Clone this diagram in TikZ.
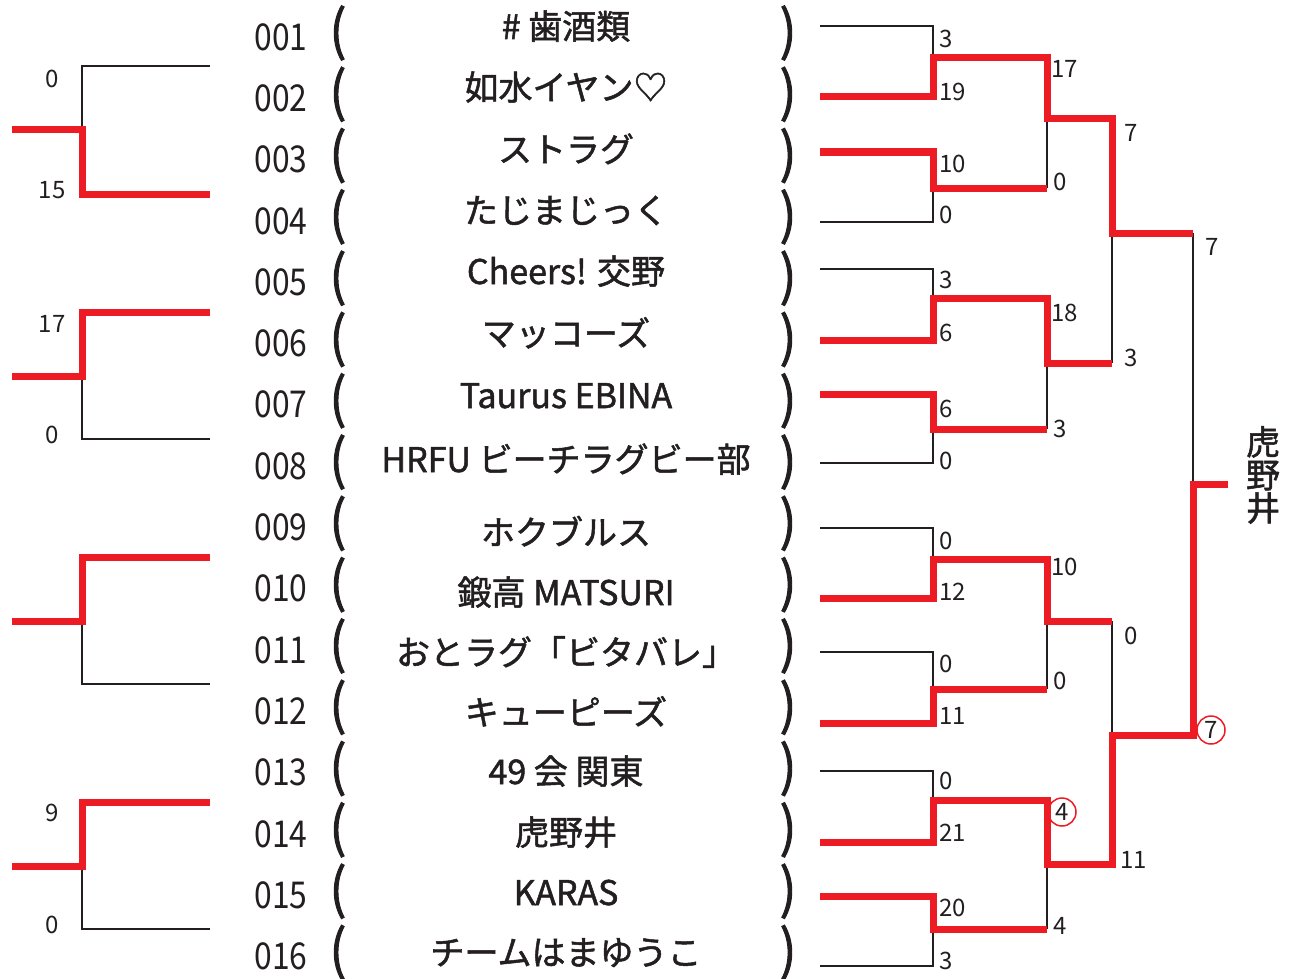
\documentclass[tikz,border=0pt]{standalone}
\usepackage{fontspec}
\setmainfont{Noto Sans CJK JP}
\newfontfamily\teamfont{Noto Sans CJK JP}[FakeBold=1.5]
\newfontfamily\parenfont{Noto Sans CJK JP}[FakeBold=2]
\usepackage{tikz}
\usetikzlibrary{positioning}
\definecolor{winred}{HTML}{ED1C24}
\definecolor{ink}{HTML}{231F20}

\begin{document}
\begin{tikzpicture}[
		x=0.5pt,
		y=-0.5pt,
		win/.style={
			draw=winred,
			line width=3.5pt
		},
		lose/.style={
			draw=ink,
			line width=1pt
		},
		entry/.style={
			font=\fontsize{18.5}{18.5}\selectfont,
			text=ink,
			inner sep=0pt
		},
		team/.style={
			font=\teamfont\fontsize{17}{17}\selectfont,
			text=ink,
			inner sep=0pt,
			text height=15pt,
			text depth=3pt
		},
		paren/.style={
			font=\parenfont\fontsize{27}{27}\selectfont,
			text=ink,
			inner sep=0pt
		},
		score/.style={
			font=\fontsize{12}{12}\selectfont,
			text=ink,
			inner sep=0pt
		},
		circled/.style={
			circle,
			draw=winred,
			line width=0.75pt,
			minimum size=14pt,
			inner sep=0pt,
			text=ink,
			font=\fontsize{12}{12}\selectfont
		}
		]
		\useasboundingbox (0,0) rectangle (1290,979);
		
		% Entries
		\foreach \i in {1,...,16} {
			\pgfmathsetmacro\ny{37+61.3*(\i-1)}
			\pgfmathsetmacro\py{33+61.3*(\i-1)}
			\node[entry] (n\i) at (281,\ny) {\scalebox{0.86}[1]{\ifnum\i<10 00\i\else 0\i\fi}};
			\node[paren] (pl\i) at (338,\py) {\scalebox{0.9}[1]{(}};
			\node[paren] (pr\i) at (788,\py) {\scalebox{0.9}[1]{)}};
		}
		\foreach \i/\ty/\name in {
			1/27/{\# 歯酒類}, 2/88/{如水イヤン♡}, 3/150/{ストラグ}, 4/211/{たじまじっく},
			5/272/{Cheers! 交野}, 6/334/{マッコーズ}, 7/396/{Taurus EBINA}, 8/460/{HRFU ビーチラグビー部},
			9/533/{ホクブルス}, 10/593/{鍛高 MATSURI}, 11/653/{おとラグ「ビタバレ」}, 12/713/{キューピーズ},
			13/772/{49 会 関東}, 14/833/{虎野井}, 15/893/{KARAS}, 16/953/{チームはまゆうこ}}
		\node[team] (t\i) at (566,\ty) {\name};
		
		% Left brackets
		\draw[lose] (210,66) -- (82,66) -- (82,130);
		\draw[win] (210,194) -- (82,194) -- (82,130) -- (12,130);
		\foreach \y in {312,557,802} {
			\draw[lose] (210,\y+127) -- (82,\y+127) -- (82,\y+64);
			\draw[win] (210,\y) -- (82,\y) -- (82,\y+64) -- (12,\y+64);
		}
		\foreach \y/\s [count=\k] in {79/0,190/15,324/17,435/0,813/9,925/0}
		\node[score] (ls\k) at (52,\y) {\s};
		
		% Right bracket, losers
		\draw[lose] (820,26) -- (933,26) -- (933,58);
		\draw[lose] (820,222) -- (933,222) -- (933,188);
		\draw[lose] (1047,119) -- (1047,188);
		\draw[lose] (820,269) -- (933,269) -- (933,298);
		\draw[lose] (820,463) -- (933,463) -- (933,429);
		\draw[lose] (1047,363) -- (1047,429);
		\draw[lose] (1112,233) -- (1112,363);
		\draw[lose] (820,528) -- (933,528) -- (933,559);
		\draw[lose] (820,652) -- (933,652) -- (933,689);
		\draw[lose] (1047,621) -- (1047,689);
		\draw[lose] (1112,621) -- (1112,735);
		\draw[lose] (820,771) -- (933,771) -- (933,800);
		\draw[lose] (820,966) -- (933,966) -- (933,929);
		\draw[lose] (1047,864) -- (1047,929);
		\draw[lose] (1193,233) -- (1193,484);
		
		% Right bracket, winners
		\draw[win] (820,97) -- (933,97) -- (933,58) -- (1047,58) -- (1047,119) -- (1112,119) -- (1112,233) -- (1193,233);
		\draw[win] (820,152) -- (933,152) -- (933,188) -- (1047,188);
		\draw[win] (820,340) -- (933,340) -- (933,298) -- (1047,298) -- (1047,363) -- (1112,363);
		\draw[win] (820,394) -- (933,394) -- (933,429) -- (1047,429);
		\draw[win] (820,598) -- (933,598) -- (933,559) -- (1047,559) -- (1047,621) -- (1112,621);
		\draw[win] (820,723) -- (933,723) -- (933,689) -- (1047,689);
		\draw[win] (820,842) -- (933,842) -- (933,800) -- (1047,800) -- (1047,864) -- (1112,864) -- (1112,735) -- (1193,735) -- (1193,484) -- (1228,484);
		\draw[win] (820,896) -- (933,896) -- (933,929) -- (1047,929);
		
		% Scores
		\foreach \x/\y/\s [count=\k] in {
			939/39/3, 939/92/19, 939/164/10, 939/215/0,
			939/280/3, 939/333/6, 939/409/6, 939/461/0,
			939/541/0, 939/592/12, 939/664/0, 939/716/11,
			939/781/0, 939/833/21, 939/908/20, 939/961/3,
			1051/69/17, 1053/182/0, 1051/313/18, 1053/429/3,
			1051/567/10, 1053/681/0, 1053/926/4,
			1124/133/7, 1124/358/3, 1124/636/0, 1120/860/11,
			1205/247/7}
		\node[score, anchor=west] (sc\k) at (\x,\y) {\s};
		\node[circled] (c4) at (1062,812) {4};
		\node[circled] (c7) at (1211,730) {7};
		
		% Winner
		\node[font=\teamfont\fontsize{17}{16.5}\selectfont, text=ink, align=center, inner sep=0pt] (champ) at (1263,475) {虎\\野\\井};
		
	\end{tikzpicture}
\end{document}
